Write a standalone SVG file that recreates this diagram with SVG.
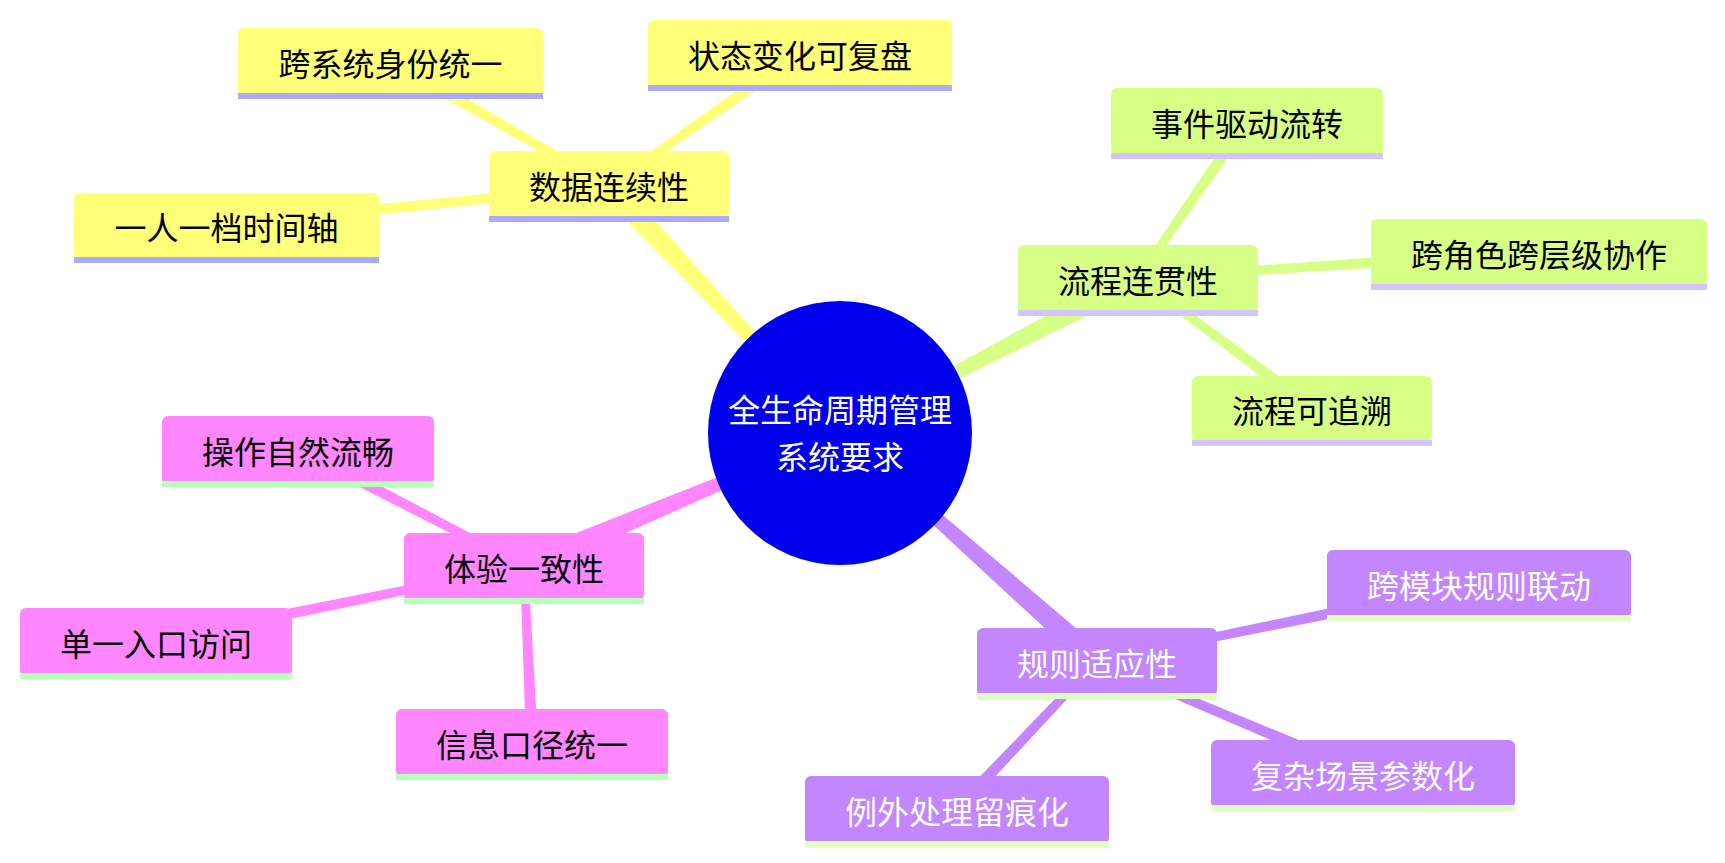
<svg xmlns="http://www.w3.org/2000/svg" width="1725" height="863" viewBox="0 0 1725 863">
<style>
text{font-family:"Noto Sans CJK SC","Noto Sans",sans-serif;font-size:32px;text-anchor:middle}
.s0 .box,.e0{fill:#ffff78}
.s0 .ul{fill:#aaaaff}
.s1 .box,.e1{fill:#d7ff86}
.s1 .ul{fill:#d3c4ff}
.s2 .box,.e2{fill:#ff86ff}
.s2 .ul{fill:#b9ffb9}
.s3 .box,.e3{fill:#c386ff}
.s3 .ul{fill:#dfffc0}
.s0 text,.s1 text,.s2 text{fill:#000}
.s3 text,.root text{fill:#fff}
.root circle{fill:#0000ec}
</style>
<rect width="1725" height="863" fill="#fff"/>
<g id="connectors">
<polygon class="e0" points="842.9,430.3 617.4,178.2 600.6,193.9 837.1,435.7"/>
<polygon class="e1" points="841.8,436.5 1143.3,288.2 1132.7,267.8 838.2,429.5"/>
<polygon class="e2" points="838.4,429.3 519.5,555.4 528.5,576.6 841.6,436.7"/>
<polygon class="e3" points="837.3,436.0 1089.4,669.6 1104.6,652.4 842.7,430.0"/>
<polygon class="e0" points="611.0,182.5 393.5,55.8 387.5,66.2 607.0,189.5"/>
<polygon class="e0" points="611.3,189.3 803.4,57.9 796.6,48.1 606.7,182.7"/>
<polygon class="e0" points="608.6,182.0 225.9,219.0 227.1,231.0 609.4,190.0"/>
<polygon class="e1" points="1141.3,280.3 1251.9,124.4 1242.1,117.6 1134.7,275.7"/>
<polygon class="e1" points="1138.3,282.0 1539.4,258.0 1538.6,246.0 1137.7,274.0"/>
<polygon class="e1" points="1135.6,281.2 1308.4,412.8 1315.6,403.2 1140.4,274.8"/>
<polygon class="e2" points="525.8,562.4 300.8,443.7 295.2,454.3 522.2,569.6"/>
<polygon class="e2" points="523.2,562.1 154.8,635.1 157.2,646.9 524.8,569.9"/>
<polygon class="e2" points="520.0,566.2 526.0,742.3 538.0,741.7 528.0,565.8"/>
<polygon class="e3" points="1097.8,664.9 1480.2,588.9 1477.8,577.1 1096.2,657.1"/>
<polygon class="e3" points="1095.4,664.7 1360.7,778.5 1365.3,767.5 1098.6,657.3"/>
<polygon class="e3" points="1094.1,658.3 952.6,804.9 961.4,813.1 1099.9,663.7"/>
</g>
<g id="root" class="root">
<circle cx="840" cy="433" r="132"/>
<text x="840" y="422">全生命周期管理</text>
<text x="840" y="469">系统要求</text>
</g>
<g id="n-data" class="s0"><rect class="box" x="489" y="151" width="240" height="68" rx="6"/><rect class="ul" x="489" y="216" width="240" height="6"/><text x="609" y="198.5">数据连续性</text></g>
<g id="n-identity" class="s0"><rect class="box" x="238" y="28" width="305" height="68" rx="6"/><rect class="ul" x="238" y="93" width="305" height="6"/><text x="390.5" y="75.5">跨系统身份统一</text></g>
<g id="n-state" class="s0"><rect class="box" x="648" y="20" width="304" height="68" rx="6"/><rect class="ul" x="648" y="85" width="304" height="6"/><text x="800" y="67.5">状态变化可复盘</text></g>
<g id="n-timeline" class="s0"><rect class="box" x="74" y="193" width="305" height="67" rx="6"/><rect class="ul" x="74" y="257" width="305" height="6"/><text x="226.5" y="240">一人一档时间轴</text></g>
<g id="n-flow" class="s1"><rect class="box" x="1018" y="245" width="240" height="68" rx="6"/><rect class="ul" x="1018" y="310" width="240" height="6"/><text x="1138" y="292.5">流程连贯性</text></g>
<g id="n-event" class="s1"><rect class="box" x="1111" y="88" width="272" height="68" rx="6"/><rect class="ul" x="1111" y="153" width="272" height="6"/><text x="1247" y="135.5">事件驱动流转</text></g>
<g id="n-collab" class="s1"><rect class="box" x="1371" y="219" width="336" height="68" rx="6"/><rect class="ul" x="1371" y="284" width="336" height="6"/><text x="1539" y="266.5">跨角色跨层级协作</text></g>
<g id="n-trace" class="s1"><rect class="box" x="1192" y="376" width="240" height="67" rx="6"/><rect class="ul" x="1192" y="440" width="240" height="6"/><text x="1312" y="423">流程可追溯</text></g>
<g id="n-exp" class="s2"><rect class="box" x="404" y="533" width="240" height="68" rx="6"/><rect class="ul" x="404" y="598" width="240" height="6"/><text x="524" y="580.5">体验一致性</text></g>
<g id="n-smooth" class="s2"><rect class="box" x="162" y="416" width="272" height="68" rx="6"/><rect class="ul" x="162" y="481" width="272" height="6"/><text x="298" y="463.5">操作自然流畅</text></g>
<g id="n-entry" class="s2"><rect class="box" x="20" y="608" width="272" height="68" rx="6"/><rect class="ul" x="20" y="673" width="272" height="6"/><text x="156" y="655.5">单一入口访问</text></g>
<g id="n-info" class="s2"><rect class="box" x="396" y="709" width="272" height="68" rx="6"/><rect class="ul" x="396" y="774" width="272" height="6"/><text x="532" y="756.5">信息口径统一</text></g>
<g id="n-rule" class="s3"><rect class="box" x="977" y="628" width="240" height="68" rx="6"/><rect class="ul" x="977" y="693" width="240" height="6"/><text x="1097" y="675.5">规则适应性</text></g>
<g id="n-module" class="s3"><rect class="box" x="1327" y="550" width="304" height="68" rx="6"/><rect class="ul" x="1327" y="615" width="304" height="6"/><text x="1479" y="597.5">跨模块规则联动</text></g>
<g id="n-param" class="s3"><rect class="box" x="1211" y="740" width="304" height="68" rx="6"/><rect class="ul" x="1211" y="805" width="304" height="6"/><text x="1363" y="787.5">复杂场景参数化</text></g>
<g id="n-except" class="s3"><rect class="box" x="805" y="776" width="304" height="68" rx="6"/><rect class="ul" x="805" y="841" width="304" height="6"/><text x="957" y="823.5">例外处理留痕化</text></g>
</svg>
